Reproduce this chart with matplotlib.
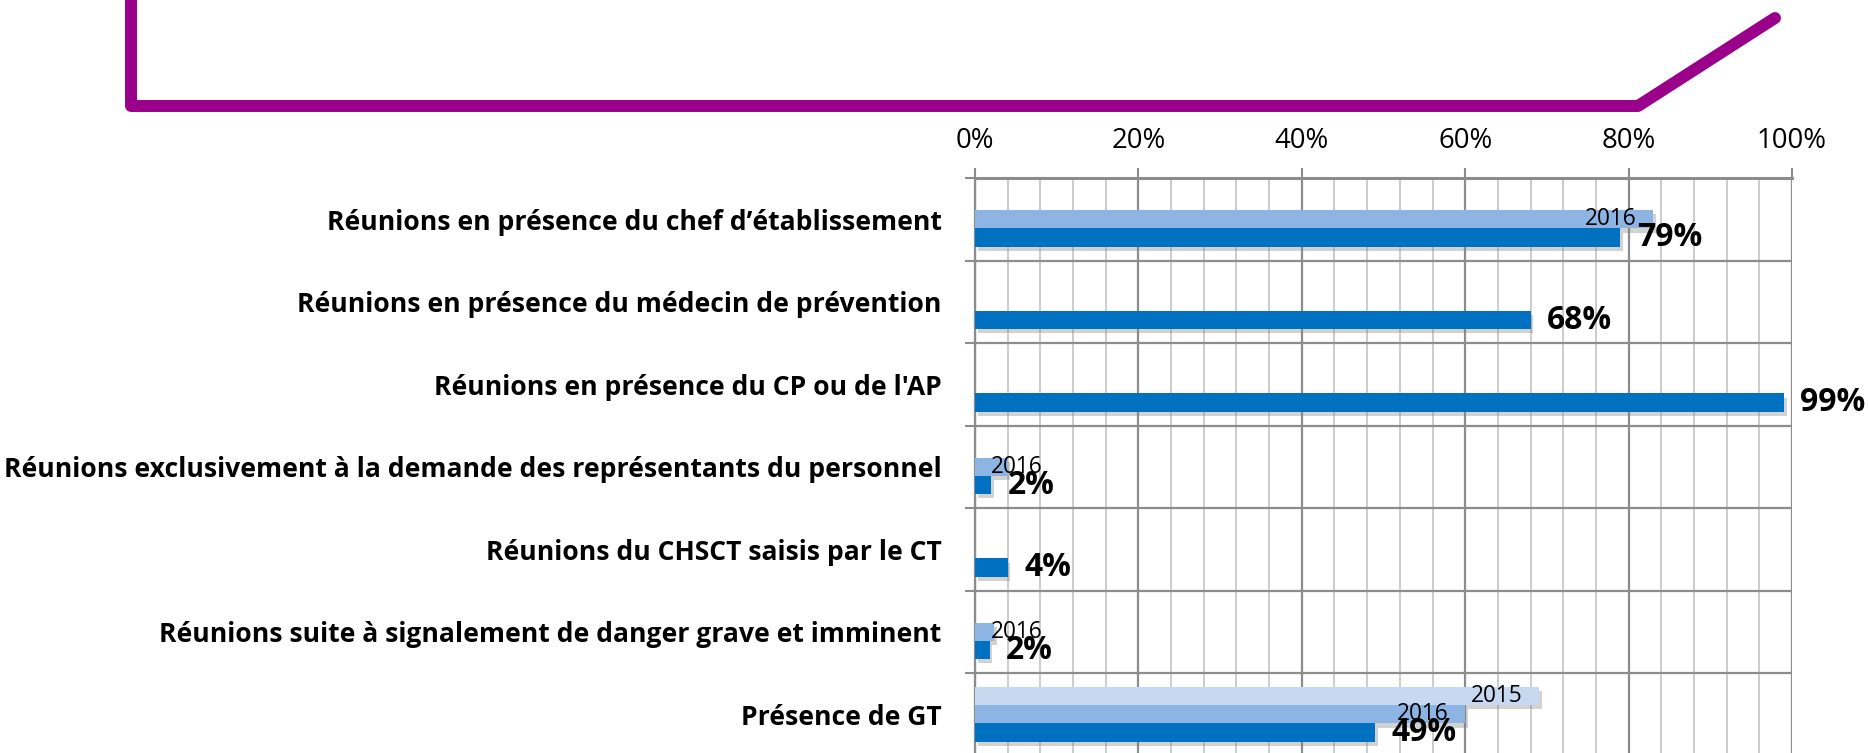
import numpy as np
import matplotlib.pyplot as plt
import matplotlib.patheffects as pe
from matplotlib.lines import Line2D

plt.rcParams['font.family'] = ['Open Sans', 'DejaVu Sans']

categories = [
    "Réunions en présence du chef d’établissement",
    "Réunions en présence du médecin de prévention",
    "Réunions en présence du CP ou de l'AP",
    "Réunions exclusivement à la demande des représentants du personnel",
    "Réunions du CHSCT saisis par le CT",
    "Réunions suite à signalement de danger grave et imminent",
    "Présence de GT",
]
v2015 = [np.nan, np.nan, np.nan, np.nan, np.nan, np.nan, 69]
v2016 = [83, np.nan, np.nan, 4, np.nan, 2.3, 60]
v2017 = [79, 68, 99, 2, 4, 1.8, 49]
xticks = [0, 20, 40, 60, 80, 100]

c2015 = '#C6D9F1'
c2016 = '#8DB4E3'
c2017 = '#0070C0'
major_gray = '#8C8C8C'
minor_gray = '#C4C4C4'

W, H = 1868, 753
fig = plt.figure(figsize=(W / 100, H / 100), dpi=100)
renderer = fig.canvas.get_renderer()


def fit_size(s, target_px, weight='normal', base=16):
    # font size (pt) giving the wanted width in pixels
    t = fig.text(0, 0, s, fontsize=base, fontweight=weight)
    w = t.get_window_extent(renderer).width
    t.remove()
    return base * target_px / w


cat_fs = fit_size(categories[3], 934, 'bold')
tick_fs = fit_size('100%', 70)
val_fs = fit_size('79%', 65, 'bold')
ser_fs = fit_size('2016', 52)

# purple frame (decoration at the top)
px = np.array([131, 131, 1638, 1775])
py = np.array([-20, 106, 106, 18])
fig.add_artist(Line2D(px / W, 1 - py / H, transform=fig.transFigure,
                      color='#9A0089', lw=8.6, solid_capstyle='round',
                      solid_joinstyle='round'))

ax = fig.add_axes([975 / W, 1 - 755.5 / H, (1792 - 975) / W, 577.5 / H])

y = np.arange(len(categories))
h = 0.222
shadow = [pe.SimplePatchShadow(offset=(2, -3), shadow_rgbFace='#808080', alpha=0.35), pe.Normal()]

b15 = ax.barh(y - h, v2015, height=h, color=c2015, zorder=3)
b16 = ax.barh(y, v2016, height=h, color=c2016, zorder=3)
b17 = ax.barh(y + h, v2017, height=h, color=c2017, zorder=3)
for bars in (b15, b16, b17):
    for p in bars:
        p.set_path_effects(shadow)

# series name labels (inside end of bar)
for vals, off, name in ((v2015, -h, '2015'), (v2016, 0, '2016')):
    for i, v in enumerate(vals):
        if np.isnan(v):
            continue
        if v > 10:
            ax.text(v - 2, i + off, name, ha='right', va='center', fontsize=ser_fs, zorder=5)
        else:
            ax.text(2, i + off, name, ha='left', va='center', fontsize=ser_fs, zorder=5)

# value labels for the last series
for i, v in enumerate(v2017):
    ax.text(v + 2, i + h, f'{v:.0f}%', ha='left', va='center',
            fontsize=val_fs, fontweight='bold', zorder=6)

ax.set_xlim(0, 100)
ax.set_ylim(len(categories) - 0.5, -0.5)

ax.xaxis.tick_top()
ax.set_xticks(xticks)
ax.set_xticklabels([f'{t}%' for t in xticks])
ax.set_xticks(np.arange(0, 101, 4), minor=True)
ax.tick_params(axis='x', which='major', direction='out', length=7.2, width=1.5,
               color=major_gray, pad=9, labelsize=tick_fs)
ax.tick_params(axis='x', which='minor', length=0)

ax.set_yticks(y)
ax.set_yticklabels(categories, fontweight='bold', fontsize=cat_fs)
ax.set_yticks(np.arange(-0.5, len(categories)), minor=True)
ax.tick_params(axis='y', which='major', length=0, pad=24)
ax.tick_params(axis='y', which='minor', direction='out', length=7.2, width=1.5,
               color=major_gray)

ax.xaxis.grid(True, which='minor', color=minor_gray, lw=1.2, zorder=0)
ax.xaxis.grid(True, which='major', color=major_gray, lw=1.6, zorder=0)
ax.yaxis.grid(True, which='minor', color=major_gray, lw=1.6, zorder=0)
ax.set_axisbelow(True)

for s in ('right', 'bottom'):
    ax.spines[s].set_visible(False)
ax.spines['top'].set_color(major_gray)
ax.spines['top'].set_linewidth(2.2)
ax.spines['left'].set_color(major_gray)
ax.spines['left'].set_linewidth(1.6)

fig.savefig('out.png', dpi=100)
